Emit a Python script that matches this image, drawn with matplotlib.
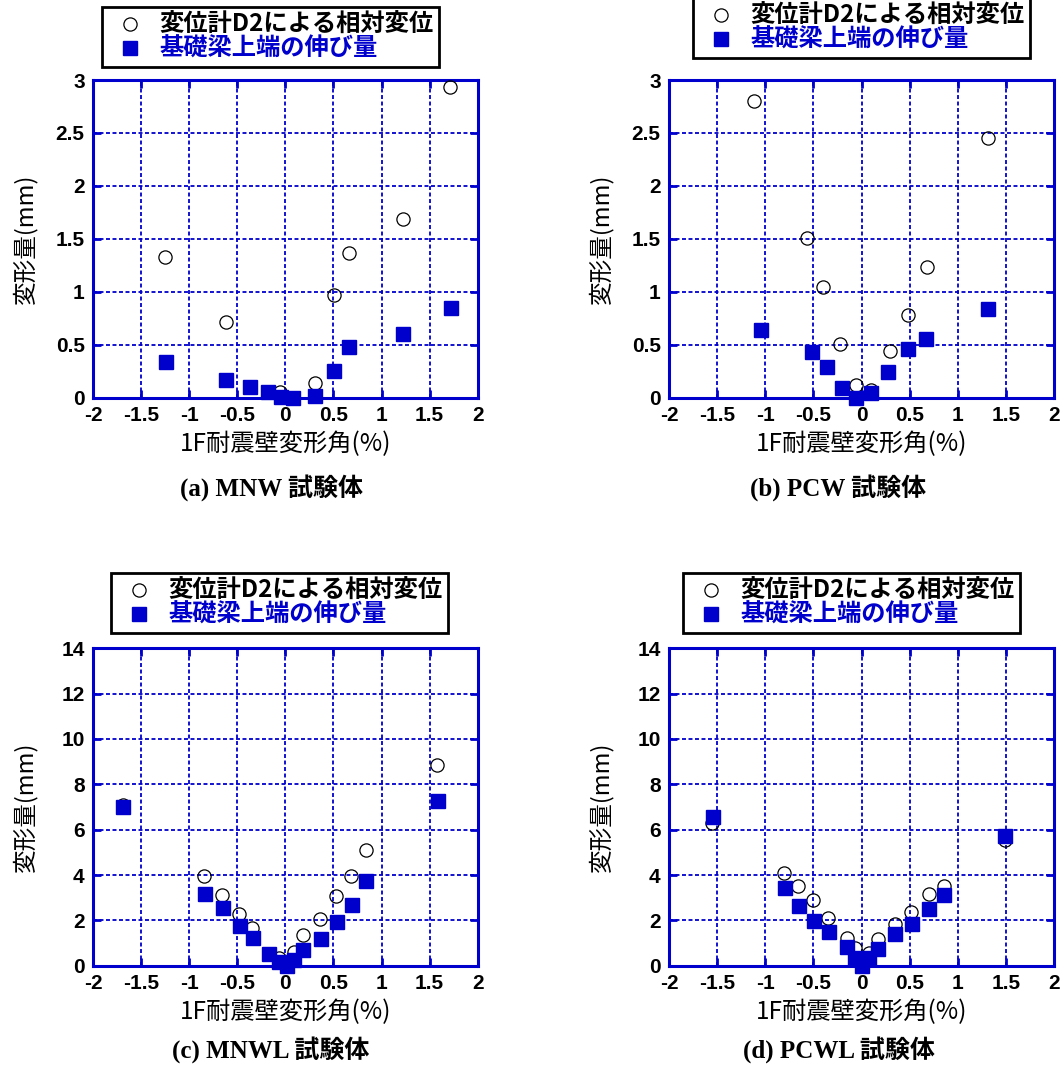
import matplotlib.pyplot as plt

plt.rcParams['font.family'] = ['Liberation Sans', 'Noto Sans CJK JP']

BLUE = '#0000CC'

# x: 1F wall drift angle (%), y: deformation (mm)
# "D2" = relative displacement by gauge D2, "ext" = elongation of foundation beam top
a_d2_x = [-1.247, -0.621, -0.06, 0.309, 0.503, 0.663, 1.219, 1.708]
a_d2_y = [1.326, 0.715, 0.05, 0.136, 0.97, 1.37, 1.69, 2.93]
a_ext_x = [-1.243, -0.618, -0.368, -0.18, -0.05, 0.08, 0.31, 0.503, 0.667, 1.226, 1.719]
a_ext_y = [0.34, 0.164, 0.098, 0.05, 0.005, 0.0, 0.02, 0.25, 0.48, 0.60, 0.85]

b_d2_x = [-1.114, -0.569, -0.396, -0.219, -0.059, 0.094, 0.292, 0.486, 0.684, 1.316]
b_d2_y = [2.80, 1.51, 1.045, 0.507, 0.117, 0.07, 0.438, 0.78, 1.23, 2.455]
b_ext_x = [-1.04, -0.517, -0.36, -0.20, -0.059, 0.094, 0.278, 0.486, 0.67, 1.316]
b_ext_y = [0.64, 0.43, 0.293, 0.089, 0.0, 0.04, 0.245, 0.463, 0.557, 0.835]

c_d2_x = [-1.69, -0.844, -0.656, -0.486, -0.347, -0.066, 0.087, 0.184, 0.361, 0.531, 0.684, 0.837, 1.58]
c_d2_y = [7.1, 3.97, 3.1, 2.29, 1.66, 0.32, 0.59, 1.34, 2.07, 3.06, 3.94, 5.12, 8.86]
c_ext_x = [-1.69, -0.833, -0.649, -0.472, -0.333, -0.167, -0.066, 0.017, 0.087, 0.188, 0.372, 0.538, 0.694, 0.84, 1.59]
c_ext_y = [6.98, 3.15, 2.56, 1.76, 1.21, 0.5, 0.18, 0.0, 0.25, 0.71, 1.19, 1.94, 2.66, 3.72, 7.28]

d_d2_x = [-1.55, -0.802, -0.656, -0.503, -0.344, -0.149, -0.07, 0.077, 0.17, 0.344, 0.518, 0.698, 0.858, 1.486]
d_d2_y = [6.28, 4.1, 3.53, 2.91, 2.1, 1.23, 0.77, 0.55, 1.16, 1.85, 2.37, 3.15, 3.53, 5.54]
d_ext_x = [-1.548, -0.795, -0.649, -0.496, -0.336, -0.146, -0.066, 0.0, 0.08, 0.174, 0.348, 0.525, 0.705, 0.858, 1.486]
d_ext_y = [6.57, 3.44, 2.62, 1.98, 1.47, 0.82, 0.33, 0.0, 0.33, 0.72, 1.38, 1.82, 2.51, 3.1, 5.72]

x_ticks = [-2, -1.5, -1, -0.5, 0, 0.5, 1, 1.5, 2]
x_tick_labels = ['-2', '-1.5', '-1', '-0.5', '0', '0.5', '1', '1.5', '2']
y_ticks_small = [0, 0.5, 1, 1.5, 2, 2.5, 3]
y_tick_labels_small = ['0', '0.5', '1', '1.5', '2', '2.5', '3']
y_ticks_large = [0, 2, 4, 6, 8, 10, 12, 14]
y_tick_labels_large = ['0', '2', '4', '6', '8', '10', '12', '14']

legend_labels = ['変位計D2による相対変位', '基礎梁上端の伸び量']
titles = ['(a) MNW 試験体', '(b) PCW 試験体', '(c) MNWL 試験体', '(d) PCWL 試験体']

W, H = 1061, 1068
fig = plt.figure(figsize=(W / 100, H / 100), dpi=100)


def px_rect(left, top, right, bottom):
    return [left / W, 1 - bottom / H, (right - left) / W, (bottom - top) / H]


def drawPanel(rect, d2x, d2y, extx, exty, yticks, ylabels, leg_pos, title, title_pos):
    ax = fig.add_axes(px_rect(*rect))
    h1, = ax.plot(d2x, d2y, linestyle='none', marker='o', ms=9.5, mfc='none',
                  mec='black', mew=0.9, zorder=3, clip_on=False)
    h2, = ax.plot(extx, exty, linestyle='none', marker='s', ms=10.5, mfc=BLUE,
                  mec=BLUE, zorder=4, clip_on=False)
    ax.set_xlim(-2, 2)
    ax.set_ylim(yticks[0], yticks[-1])
    ax.set_xticks(x_ticks, x_tick_labels, fontweight='bold', fontsize=15)
    ax.set_yticks(yticks, ylabels, fontweight='bold', fontsize=15)
    ax.tick_params(direction='in', length=6, width=2, color=BLUE,
                   top=True, right=True, pad=6)
    ax.grid(True, color=BLUE, linestyle=(0, (2.2, 1.4)), linewidth=1.3)
    for s in ax.spines.values():
        s.set_color(BLUE)
        s.set_linewidth(2.2)
    ax.set_axisbelow(True)

    ax.set_xlabel('1F耐震壁変形角(%)', fontsize=17.5, family=['Noto Sans CJK JP'], va='center')
    ax.xaxis.set_label_coords(0.5, -0.145)
    ax.set_ylabel('変形量(mm)', fontsize=17, family=['Noto Sans CJK JP'], va='center')
    ax.yaxis.set_label_coords(-0.178, 0.5)

    leg = ax.legend([h1, h2], legend_labels, loc='upper left',
                    bbox_to_anchor=(leg_pos[0] / W, 1 - leg_pos[1] / H),
                    bbox_transform=fig.transFigure, fancybox=False, framealpha=1,
                    edgecolor='black', borderpad=0.25, labelspacing=0.0,
                    handlelength=1.8, handletextpad=0.3, borderaxespad=0,
                    prop=dict(family=['Noto Sans CJK JP'], weight='bold', size=17.5))
    leg.get_frame().set_linewidth(2)
    leg.get_texts()[1].set_color(BLUE)

    fig.text(title_pos[0] / W, 1 - title_pos[1] / H, title, ha='center', va='center',
             fontsize=18, fontweight='bold', family=['Liberation Serif', 'Noto Sans CJK JP'])


drawPanel((93, 80, 477.7, 397.7), a_d2_x, a_d2_y, a_ext_x, a_ext_y,
          y_ticks_small, y_tick_labels_small, (102, 7), titles[0], (272, 488))
drawPanel((669, 80, 1054, 397.7), b_d2_x, b_d2_y, b_ext_x, b_ext_y,
          y_ticks_small, y_tick_labels_small, (693, -2), titles[1], (838, 488))
drawPanel((93, 648.3, 477.7, 965.7), c_d2_x, c_d2_y, c_ext_x, c_ext_y,
          y_ticks_large, y_tick_labels_large, (111, 573), titles[2], (271, 1050))
drawPanel((669, 648.3, 1054, 965.7), d_d2_x, d_d2_y, d_ext_x, d_ext_y,
          y_ticks_large, y_tick_labels_large, (683, 573), titles[3], (839, 1050))

fig.savefig('out.png', dpi=100)
